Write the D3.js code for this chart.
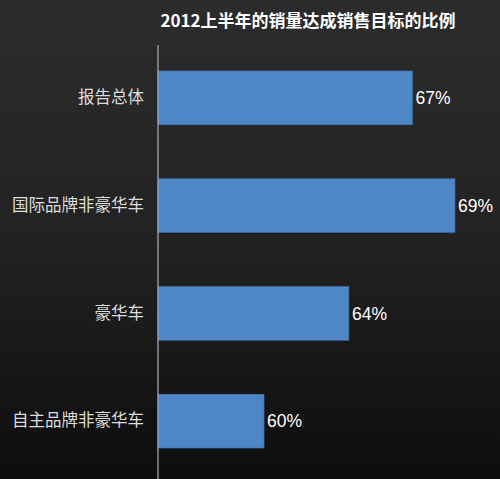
<!DOCTYPE html>
<html>
<head>
<meta charset="utf-8">
<script src="https://cdn.jsdelivr.net/npm/d3@7"></script>
<style>
  body { margin: 0; background: #000; }
  svg { display: block; }
</style>
</head>
<body>
<script>
// data
var categories = ["报告总体", "国际品牌非豪华车", "豪华车", "自主品牌非豪华车"];
var values = [67, 69, 64, 60];
var valueLabels = ["67%", "69%", "64%", "60%"];
var title = "2012上半年的销量达成销售目标的比例";

var width = 500, height = 479;
var axisX = 158;

var svg = d3.select("body").append("svg")
    .attr("width", width)
    .attr("height", height);

// dark gradient background
var grad = svg.append("defs").append("linearGradient")
    .attr("id", "bg")
    .attr("x1", 0).attr("y1", 0).attr("x2", 0).attr("y2", 1);
grad.append("stop").attr("offset", "0%").attr("stop-color", "#2c2c2c");
grad.append("stop").attr("offset", "50%").attr("stop-color", "#222222");
grad.append("stop").attr("offset", "100%").attr("stop-color", "#0d0d0d");
svg.append("rect").attr("width", width).attr("height", height).attr("fill", "url(#bg)");

// value axis does not start at zero
var x = d3.scaleLinear()
    .domain([55, 69])
    .range([axisX, 455]);

var y = d3.scaleBand()
    .domain(categories)
    .range([44, 475])
    .paddingInner(0.5)
    .paddingOuter(0.25);

svg.append("text")
    .attr("x", 308)
    .attr("y", 27)
    .attr("text-anchor", "middle")
    .attr("fill", "#ffffff")
    .style("font-family", "'Noto Sans CJK SC', sans-serif")
    .style("font-weight", "bold")
    .style("font-size", "17px")
    .text(title);

svg.selectAll("rect.bar")
    .data(values)
    .enter()
    .append("rect")
    .attr("class", "bar")
    .attr("x", x(55))
    .attr("y", function (d, i) { return y(categories[i]); })
    .attr("width", function (d) { return x(d) - x(55); })
    .attr("height", y.bandwidth())
    .attr("fill", "#4f86c6")
    .attr("stroke", "#3d6aa0")
    .attr("stroke-width", 0.6);

svg.selectAll("text.val")
    .data(values)
    .enter()
    .append("text")
    .attr("class", "val")
    .attr("x", function (d) { return x(d) + 3; })
    .attr("y", function (d, i) { return y(categories[i]) + y.bandwidth() / 2; })
    .attr("dy", "0.36em")
    .attr("fill", "#ffffff")
    .style("font-family", "'Liberation Sans', Arial, sans-serif")
    .style("font-size", "17.5px")
    .text(function (d, i) { return valueLabels[i]; });

// category axis
var axis = svg.append("g")
    .attr("transform", "translate(" + axisX + ",0)")
    .call(d3.axisLeft(y).tickSize(0).tickPadding(14));
axis.select(".domain")
    .attr("d", "M0,45V479")
    .attr("stroke", "#b0b0b0")
    .attr("stroke-width", 1.2);
axis.selectAll("text")
    .attr("fill", "#dddddd")
    .style("font-family", "'Noto Sans CJK SC', sans-serif")
    .style("font-size", "16.5px");
</script>
</body>
</html>
